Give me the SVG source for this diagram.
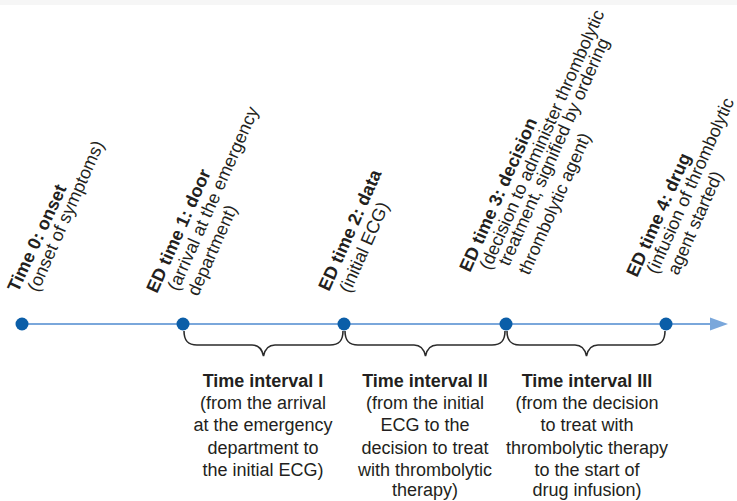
<svg xmlns="http://www.w3.org/2000/svg" width="737" height="501" viewBox="0 0 737 501">
<defs>
<style>
text{font-family:"Liberation Sans",Arial,Helvetica,sans-serif;fill:#231f20;font-size:18px}
.b{font-weight:bold}
.iv{font-size:18px;text-anchor:middle}
.dot{fill:#0b5ea8}
.axis{stroke:#7aa7db;stroke-width:2;fill:none}
.brace{stroke:#2b2b2b;stroke-width:1.6;fill:none}
</style>
</defs>
<rect x="0" y="0" width="737" height="501" fill="#ffffff"/>
<rect x="0" y="0" width="737" height="5" fill="#f6f6f6"/>
<g id="connectors">
<line class="axis" x1="22" y1="324" x2="712" y2="324"/>
<path d="M710,317.5 L728,324 L710,330.5 Z" fill="#7aa7db"/>
<path class="brace" d="M184,331 C184,341 188,345 197,345 L252,345 C259,345 262,349 263.5,356 C265,349 268,345 275,345 L330,345 C339,345 343,341 343,331"/>
<path class="brace" d="M345,331 C345,341 349,345 358,345 L414,345 C421,345 424,349 425.5,356 C427,349 430,345 437,345 L492,345 C501,345 505,341 505,331"/>
<path class="brace" d="M507,331 C507,341 511,345 520,345 L575,345 C582,345 585,349 586.5,356 C588,349 591,345 598,345 L652,345 C661,345 665,341 665,331"/>
</g>
<g id="node-t0">
<circle class="dot" cx="22" cy="324" r="6.5"/>
<text class="b" transform="translate(18,293) rotate(-65)">Time 0: onset</text>
<text transform="translate(38,293) rotate(-66)">(onset of symptoms)</text>
</g>
<g id="node-t1">
<circle class="dot" cx="183" cy="324" r="6.5"/>
<text class="b" transform="translate(157,294) rotate(-66)">ED time 1: door</text>
<text transform="translate(178,292) rotate(-66)">(arrival at the emergency</text>
<text transform="translate(198,297) rotate(-66)">department)</text>
</g>
<g id="node-t2">
<circle class="dot" cx="344" cy="324" r="6.5"/>
<text class="b" transform="translate(329,292) rotate(-66)">ED time 2: data</text>
<text transform="translate(350,294) rotate(-66)">(initial ECG)</text>
</g>
<g id="node-t3">
<circle class="dot" cx="506" cy="324" r="6.5"/>
<text class="b" transform="translate(470,273) rotate(-66)">ED time 3: decision</text>
<text transform="translate(490,271) rotate(-66)">(decision to administer thrombolytic</text>
<text transform="translate(509,267) rotate(-66)">treatment, signified by ordering</text>
<text transform="translate(529,276) rotate(-66)">thrombolytic agent)</text>
</g>
<g id="node-t4">
<circle class="dot" cx="666" cy="324" r="6.5"/>
<text class="b" transform="translate(637,278) rotate(-66)">ED time 4: drug</text>
<text transform="translate(657,275) rotate(-66)">(infusion of thrombolytic</text>
<text transform="translate(678,276) rotate(-66)">agent started)</text>
</g>
<g id="interval-1">
<text class="iv b" x="263" y="387">Time interval I</text>
<text class="iv" x="263" y="409.2">(from the arrival</text>
<text class="iv" x="263" y="431.4">at the emergency</text>
<text class="iv" x="263" y="453.6">department to</text>
<text class="iv" x="263" y="475.8">the initial ECG)</text>
</g>
<g id="interval-2">
<text class="iv b" x="425" y="387">Time interval II</text>
<text class="iv" x="425" y="409.2">(from the initial</text>
<text class="iv" x="425" y="431.4">ECG to the</text>
<text class="iv" x="425" y="453.6">decision to treat</text>
<text class="iv" x="425" y="475.8">with thrombolytic</text>
<text class="iv" x="425" y="496">therapy)</text>
</g>
<g id="interval-3">
<text class="iv b" x="587" y="387">Time interval III</text>
<text class="iv" x="587" y="409.2">(from the decision</text>
<text class="iv" x="587" y="431.4">to treat with</text>
<text class="iv" x="587" y="453.6">thrombolytic therapy</text>
<text class="iv" x="587" y="475.8">to the start of</text>
<text class="iv" x="587" y="496">drug infusion)</text>
</g>
</svg>
